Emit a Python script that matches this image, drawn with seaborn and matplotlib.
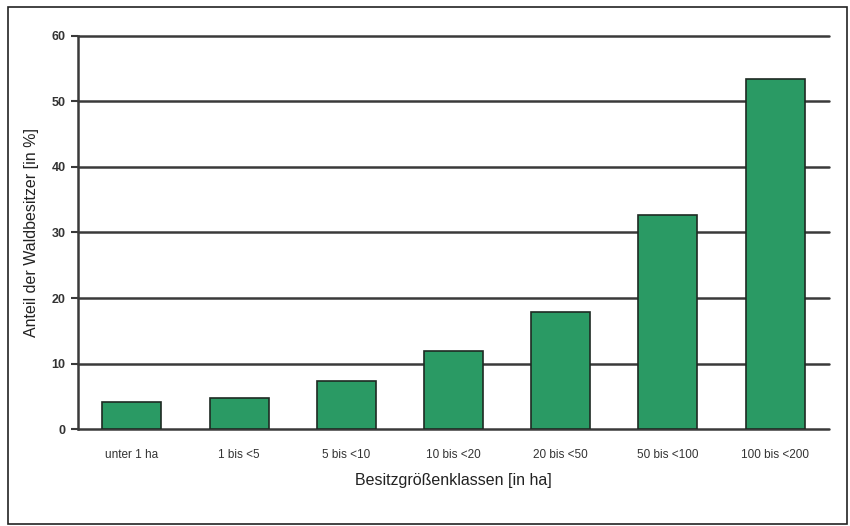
import matplotlib
matplotlib.use("Agg")
import matplotlib.pyplot as plt
import seaborn as sns
import pandas as pd
from matplotlib.patches import Rectangle

# values
klassen = ["unter 1 ha", "1 bis <5", "5 bis <10", "10 bis <20",
           "20 bis <50", "50 bis <100", "100 bis <200"]
anteil = [4.1, 4.8, 7.3, 11.9, 17.8, 32.7, 53.4]
yticks = [0, 10, 20, 30, 40, 50, 60]

df = pd.DataFrame({"klasse": klassen, "anteil": anteil})

sns.set_theme(style="white")
plt.rcParams["font.family"] = ["Liberation Sans", "DejaVu Sans"]

fig = plt.figure(figsize=(8.5, 5.26), dpi=100)
ax = fig.add_axes([0.092, 0.184, 0.883, 0.748])

# horizontal grid lines behind the bars
for y in yticks:
    ax.axhline(y, color="#3a3a3a", lw=1.8, zorder=0, clip_on=False)

sns.barplot(data=df, x="klasse", y="anteil", color="#2a9a64", width=0.55,
            edgecolor="#1e2a22", linewidth=1.2, saturation=1, ax=ax, zorder=2)

ax.set_xlim(-0.5, 6.5)
ax.set_ylim(0, 60)
ax.set_yticks(yticks)
ax.tick_params(axis="y", left=True, length=5, width=1.5, color="#3a3a3a",
               labelsize=9, pad=4)
ax.tick_params(axis="x", bottom=False, labelsize=8.5, pad=8)
for lbl in ax.get_yticklabels():
    lbl.set_fontweight("bold")
    lbl.set_color("#333333")
for lbl in ax.get_xticklabels():
    lbl.set_color("#333333")

for s in ["top", "right", "bottom"]:
    ax.spines[s].set_visible(False)
ax.spines["left"].set_color("#3a3a3a")
ax.spines["left"].set_linewidth(1.8)

ax.set_xlabel("Besitzgrößenklassen [in ha]", fontsize=11.5, color="#222222", labelpad=9)
ax.set_ylabel("Anteil der Waldbesitzer [in %]", fontsize=11.5, color="#222222", labelpad=9)

# outer frame around the whole figure
fig.patches.append(Rectangle((0.009, 0.004), 0.988, 0.983, transform=fig.transFigure,
                             fill=False, edgecolor="#222222", lw=1.2))

fig.savefig("out.png", dpi=100)
